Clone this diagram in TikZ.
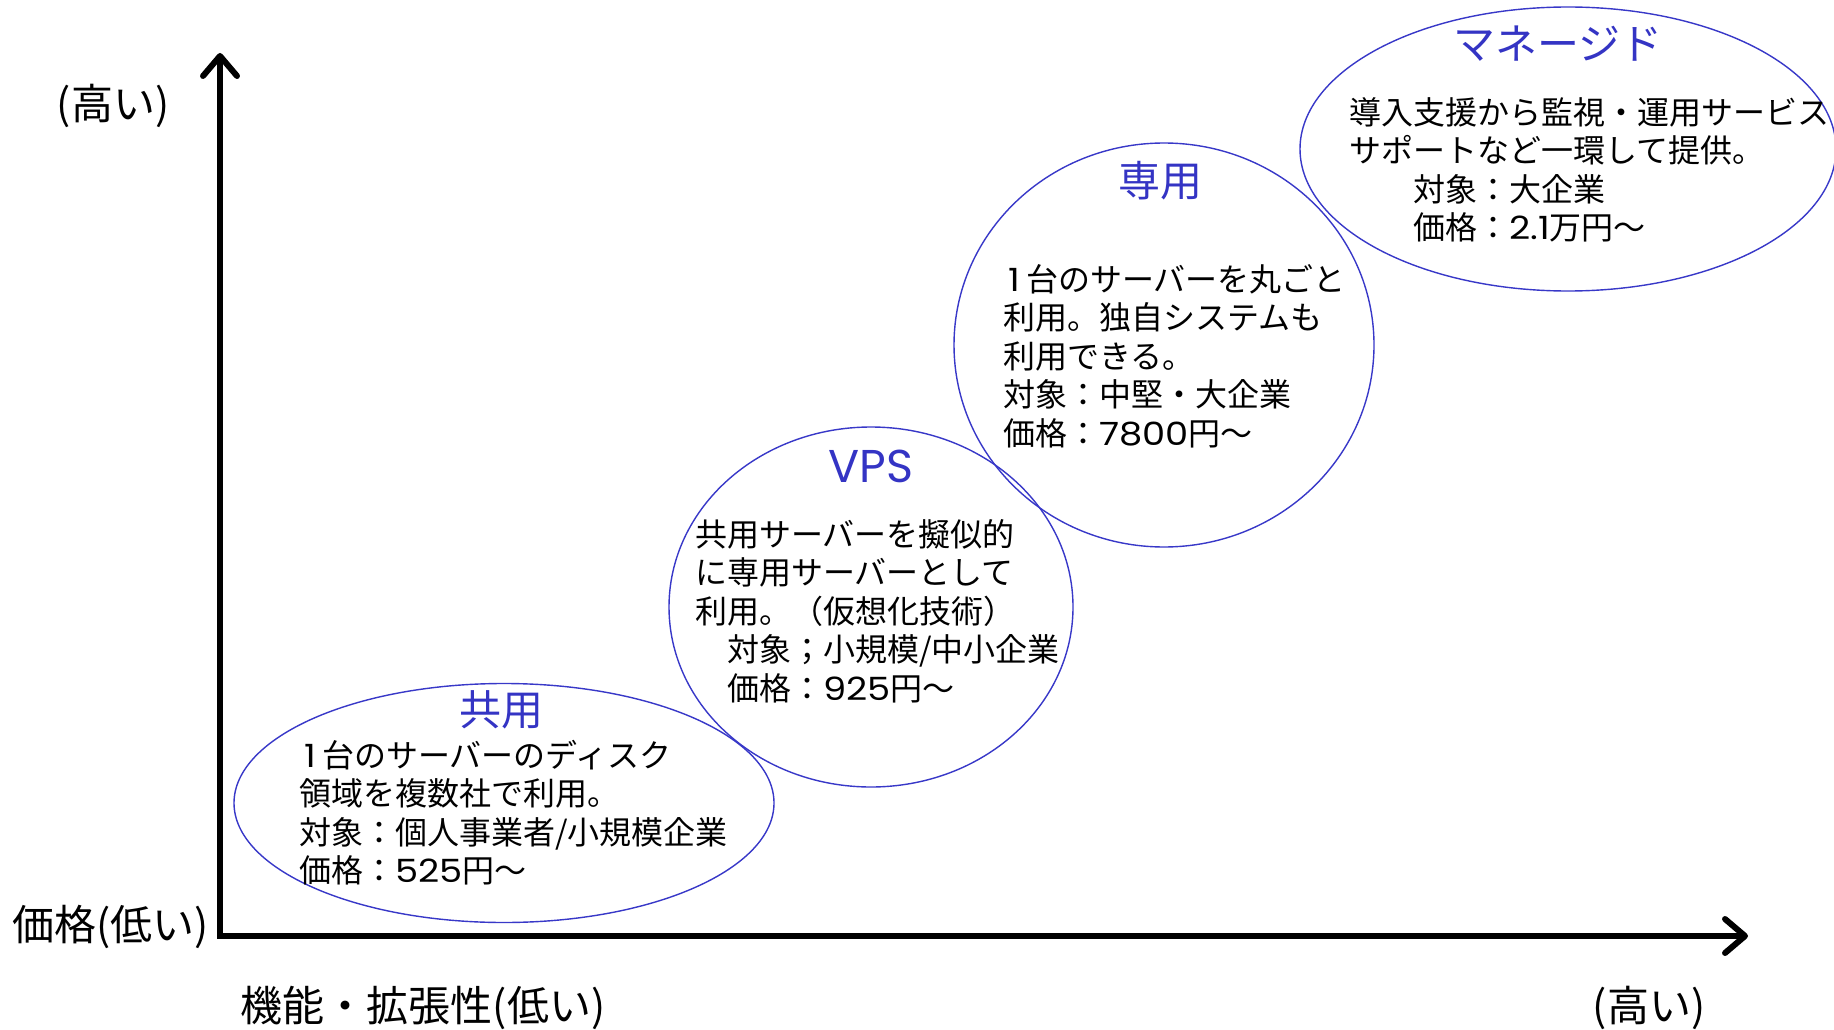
\documentclass[tikz,border=0pt]{standalone}
\usepackage{fontspec}
\setmainfont{Noto Sans CJK JP}
\newfontfamily\latn[FakeStretch=1.15]{Poppins}
\newfontfamily\vpsfont{Poppins}
\usetikzlibrary{shapes.geometric,arrows.meta}
\definecolor{ringblue}{RGB}{56,56,200}
\definecolor{titleblue}{RGB}{52,52,196}
\newcommand{\dg}[1]{{\latn #1}}
\newcommand{\one}{\makebox[0.72em][c]{\latn 1}}
\tikzset{
  ring/.style={draw=ringblue,line width=1.4pt,ellipse,inner sep=0pt},
  ringtitle/.style={text=titleblue,font=\fontsize{42}{48}\selectfont,inner sep=0pt},
  bodytext/.style={anchor=north west,align=left,inner sep=0pt,font=\fontsize{32}{38.5}\selectfont},
  axislabel/.style={inner sep=0pt,font=\fontsize{42}{48}\selectfont},
  axisline/.style={line width=6pt,{Straight Barb[length=20pt,width=34pt,round]}-{Straight Barb[length=20pt,width=34pt,round]}}
}
\begin{document}
\begin{tikzpicture}[x=1pt,y=-1pt]
\useasboundingbox[fill=white] (0,0) rectangle (1834,1030);
% axes
\coordinate (ytip) at (220,53);
\coordinate (orig) at (220,936);
\coordinate (xtip) at (1748,936);
\draw[axisline] (ytip) -- (orig) -- (xtip);
% axis labels
\node[axislabel] (yhigh) at (113,106) {(高い)};
\node[axislabel] (ylow) at (111,927) {価格(低い)};
\node[axislabel] (xlow) at (423,1008) {機能・拡張性(低い)};
\node[axislabel] (xhigh) at (1649,1008) {(高い)};
% ellipses
\node[ring,minimum width=540pt,minimum height=239pt] (kyoyo) at (504,803) {};
\node[ring,minimum width=404pt,minimum height=360pt] (vps) at (871,607) {};
\node[ring,minimum width=420pt,minimum height=404pt] (senyo) at (1164,345) {};
\node[ring,minimum width=536pt,minimum height=284pt] (managed) at (1568,149) {};
% titles
\node[ringtitle] (kyoyoT) at (501,710) {共用};
\node[ringtitle,font=\vpsfont\fontsize{46}{52}\selectfont] (vpsT) at (871,466) {VPS};
\node[ringtitle] (senyoT) at (1160,181) {専用};
\node[ringtitle] (managedT) at (1558,44) {マネージド};
% bodies
\node[bodytext] (kyoyoB) at (299,740) {\one 台のサーバーのディスク\\領域を複数社で利用。\\対象：個人事業者/小規模企業\\価格：\dg{525}円～};
\node[bodytext] (vpsB) at (695,519) {共用サーバーを擬似的\\に専用サーバーとして\\利用。（仮想化技術）\\　対象；小規模/中小企業\\　価格：\dg{925}円～};
\node[bodytext] (senyoB) at (1003,264) {\one 台のサーバーを丸ごと\\利用。独自システムも\\利用できる。\\対象：中堅・大企業\\価格：\dg{7800}円～};
\node[bodytext] (managedB) at (1349,97) {導入支援から監視・運用サービス\\サポートなど一環して提供。\\　　対象：大企業\\　　価格：\dg{2.1}万円～};
\end{tikzpicture}
\end{document}
